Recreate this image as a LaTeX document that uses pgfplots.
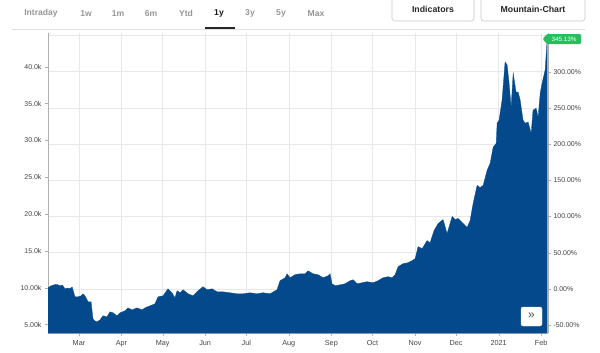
\documentclass[border=0pt]{standalone}
\usepackage{pgfplots}
\pgfplotsset{compat=1.18}
\usepackage{fontspec}
\setmainfont{Liberation Sans}
\definecolor{area}{RGB}{3,73,139}
\definecolor{gridc}{RGB}{232,232,232}
\definecolor{axc}{RGB}{175,175,175}
\definecolor{lab}{RGB}{68,68,68}
\definecolor{tabc}{RGB}{150,150,150}
\definecolor{tagc}{RGB}{38,190,92}

\pgfplotstableread{
day value
-22.6 10000
-20.5 10250
-18.5 10380
-17.0 10450
-15.5 10420
-13.9 10270
-12.0 10350
-10.2 9860
-8.5 9950
-6.6 9900
-5.0 10100
-2.9 8770
-0.7 8770
1.5 8900
2.9 9180
4.0 9000
5.1 8640
6.6 8100
8.8 8100
10.2 5780
11.5 5500
13.1 5370
15.3 5640
17.5 6190
20.4 6050
22.6 6730
24.8 6600
27.7 6190
29.9 6600
33.6 6870
35.7 7270
38.7 7000
42.3 7270
46.0 7000
48.1 7270
51.8 7550
55.4 7820
57.6 8770
61.3 8910
64.9 9860
67.8 9320
70.0 8640
71.5 9590
73.7 9320
75.9 9730
79.5 9180
83.2 8910
86.8 9590
90.4 10140
93.4 9730
97.0 9860
100.7 9450
105.0 9450
110.1 9320
115.2 9180
119.6 9180
124.7 9320
129.8 9180
134.2 9320
139.3 9180
144.4 9730
146.6 10950
150.3 11360
151.7 11900
153.9 11360
157.5 11770
161.2 11900
164.8 11900
167.0 12300
170.7 11900
174.3 11770
178.0 11360
181.6 11630
183.1 11900
184.5 10540
186.7 10270
190.4 10400
194.0 10540
197.7 10950
199.9 11090
202.8 10540
206.4 10680
210.1 10820
214.4 10680
218.1 10950
221.7 11360
225.4 11500
228.3 11360
230.5 11770
232.7 12860
236.3 13270
240.0 13400
242.9 13680
245.1 13950
247.3 15580
250.2 15300
253.8 16400
256.0 16100
258.9 17760
261.9 18720
265.5 19260
268.4 17350
272.1 19670
274.3 19260
276.4 19400
280.1 18720
283.0 18170
285.2 19130
287.4 21440
290.3 23890
292.5 23600
294.7 23890
297.6 25940
299.8 26890
302.0 29070
304.2 29610
304.9 32340
306.3 32750
308.5 35470
310.7 40650
312.2 40240
313.6 37780
315.1 34510
316.6 39150
318.7 36560
320.2 36560
321.7 35470
323.8 32750
325.3 32340
327.5 32480
329.7 30970
331.1 34100
333.3 34370
334.8 33150
336.3 36430
337.7 37780
339.9 39560
341.4 43760
}\btcdata

\begin{document}
\begin{tikzpicture}[x=1bp,y=1bp]
\path[use as bounding box] (0,0) rectangle (600,352);

% grid + right (percent) axis
\begin{axis}[
  at={(48bp,19bp)}, anchor=south west, scale only axis,
  width=500bp, height=300bp,
  xmin=-22.6, xmax=342, ymin=-60.75, ymax=353.5,
  axis x line*=bottom, axis y line*=right,
  axis line style={axc, line width=0.6pt},
  xtick={0,31,61,92,122,153,184,214,245,275,306,337},
  xticklabels={},
  x tick style={draw=none},
  ytick={-50,0,50,100,150,200,250,300,350},
  yticklabels={-50.00\%,0.00\%,50.00\%,100.00\%,150.00\%,200.00\%,250.00\%,300.00\%,{}},
  xmajorgrids, ymajorgrids,
  grid style={gridc, line width=0.6pt},
  tick align=outside, major tick length=3bp,
  y tick style={axc},
  tick label style={font=\fontsize{7}{8}\selectfont, color=lab},
  yticklabel style={xshift=-1bp},
]
\end{axis}

% data axis
\begin{axis}[
  at={(48bp,19bp)}, anchor=south west, scale only axis,
  width=500bp, height=300bp,
  xmin=-22.6, xmax=342, ymin=3858, ymax=44580,
  axis x line*=bottom, axis y line*=left,
  axis line style={axc, line width=0.6pt},
  xtick={0,31,61,92,122,153,184,214,245,275,306,337},
  xticklabels={Mar,Apr,May,Jun,Jul,Aug,Sep,Oct,Nov,Dec,2021,Feb},
  ytick={5000,10000,15000,20000,25000,30000,35000,40000},
  yticklabels={5.00k,10.00k,15.0k,20.0k,25.0k,30.0k,35.0k,40.0k},
  tick align=outside, major tick length=3bp,
  tick style={axc},
  tick label style={font=\fontsize{7}{8}\selectfont, color=lab},
  xticklabel style={yshift=-1bp, font=\fontsize{7.3}{8}\selectfont},
  scaled y ticks=false,
]
\addplot[fill=area, draw=area, line width=0.3pt] table[x=day, y=value] {\btcdata} \closedcycle;
\end{axis}

% top tabs
\begin{scope}[every node/.style={font=\fontsize{8.6}{10}\selectfont\bfseries, text=tabc, inner sep=0pt}]
\node at (41,338.5) {Intraday};
\node at (86,338.5) {1w};
\node at (118,338.5) {1m};
\node at (151,338.5) {6m};
\node at (186,338.5) {Ytd};
\node[text=black!90] at (219,338.5) {1y};
\node at (250,338.5) {3y};
\node at (281,338.5) {5y};
\node at (316,338.5) {Max};
\end{scope}
\draw[gray!25, line width=0.6pt] (12,322.5) -- (585,322.5);
\draw[black!85, line width=1.8pt] (205,324) -- (235,324);

% buttons
\draw[gray!45, line width=0.6pt, rounded corners=3bp] (392,353) -- (392,331) -- (474,331) -- (474,353);
\draw[gray!45, line width=0.6pt, rounded corners=3bp] (481,353) -- (481,331) -- (585,331) -- (585,353);
\node[font=\fontsize{8.8}{10}\selectfont\bfseries, text=black!85, inner sep=0pt] at (433,343) {Indicators};
\node[font=\fontsize{8.8}{10}\selectfont\bfseries, text=black!85, inner sep=0pt] at (533,343) {Mountain-Chart};

% value tag
\fill[tagc, rounded corners=1.2bp] (542.5,313) -- (547,318) -- (581,318) -- (581,308) -- (547,308) -- cycle;
\node[font=\fontsize{6.3}{7}\selectfont, text=white, inner sep=0pt] at (564,313) {345.13\%};

% scroll button
\draw[fill=white, draw=gray!25, rounded corners=2bp] (521,26) rectangle (542,45);
\node[font=\fontsize{12}{12}\selectfont, text=black!70, inner sep=0pt] at (531.5,36) {»};
\end{tikzpicture}
\end{document}
